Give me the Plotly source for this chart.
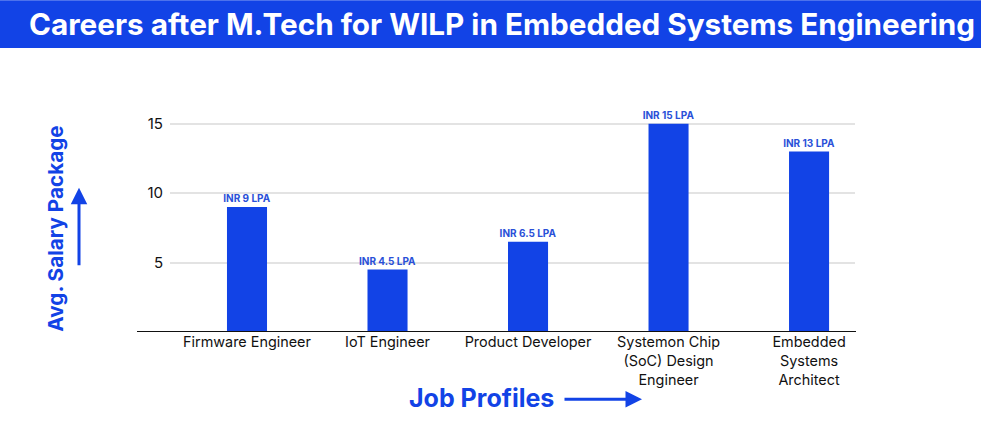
import plotly.graph_objects as go

# ---- data ----
categories = ["Firmware Engineer", "IoT Engineer", "Product Developer",
              "Systemon Chip<br>(SoC) Design<br>Engineer",
              "Embedded<br>Systems<br>Architect"]
salary_lpa = [9, 4.5, 6.5, 15, 13]
bar_labels = ["INR 9 LPA", "INR 4.5 LPA", "INR 6.5 LPA", "INR 15 LPA", "INR 13 LPA"]
y_ticks = [5, 10, 15]

title_text = "Careers after M.Tech for WILP in Embedded Systems Engineering"
y_title = "Avg. Salary Package"
x_title = "Job Profiles"

# ---- layout constants (pixels) ----
W, H = 1000, 423
L, R, T, B = 170, 145, 96, 90.5
PW, PH = W - L - R, H - T - B
BLUE = "#1243E6"
FONT = "Inter, 'Open Sans', sans-serif"


def px(x):
    return (x - L) / PW


def py(y):
    return (H - B - y) / PH


fig = go.Figure()
fig.add_trace(go.Bar(
    x=categories, y=salary_lpa, text=bar_labels,
    textposition="outside", cliponaxis=False, constraintext="none",
    textfont=dict(family=FONT, size=10, color="#2A50D8", weight="bold"),
    marker=dict(color=BLUE, line=dict(width=0)),
    width=0.285, hoverinfo="skip",
))

fig.update_layout(
    width=W, height=H,
    margin=dict(l=L, r=R, t=T, b=B, pad=0),
    paper_bgcolor="white", plot_bgcolor="white",
    showlegend=False,
    font=dict(family=FONT, color="#111"),
    xaxis=dict(range=[-0.548, 4.327], showgrid=False, showline=False,
               ticks="", tickfont=dict(size=14.4, color="#111"),
               zeroline=False),
    yaxis=dict(range=[0, 17], tickvals=y_ticks, showgrid=True,
               gridcolor="#E3E3E3", gridwidth=1.5, zeroline=False,
               showline=False, ticks="", ticklabelstandoff=6,
               tickfont=dict(size=15, color="#111")),
)

shapes = [
    # title banner
    dict(type="rect", xref="paper", yref="paper",
         x0=px(0), x1=px(981), y0=py(48), y1=py(0),
         fillcolor=BLUE, line=dict(width=0), layer="below"),
    # baseline extending left of grid
    dict(type="line", xref="paper", yref="y",
         x0=px(137), x1=px(856), y0=0, y1=0,
         line=dict(color="#111", width=1.8)),
]
fig.update_layout(shapes=shapes)

annotations = [
    dict(text=title_text, xref="paper", yref="paper", x=px(502), y=py(24),
         showarrow=False, xanchor="center", yanchor="middle",
         font=dict(family=FONT, size=29.7, color="white", weight="bold")),
    dict(text=y_title, xref="paper", yref="paper", x=px(56), y=py(229),
         showarrow=False, textangle=-90, xanchor="center", yanchor="middle",
         font=dict(family=FONT, size=20.7, color=BLUE, weight="bold")),
    dict(text="", xref="paper", yref="paper", x=px(79), y=py(188),
         ax=0, ay=79, showarrow=True, arrowhead=2, arrowsize=1.1,
         arrowwidth=3, arrowcolor=BLUE),
    dict(text=x_title, xref="paper", yref="paper", x=px(481), y=py(399),
         showarrow=False, xanchor="center", yanchor="middle",
         font=dict(family=FONT, size=25, color=BLUE, weight="bold")),
    dict(text="", xref="paper", yref="paper", x=px(642), y=py(400),
         ax=-79, ay=0, showarrow=True, arrowhead=2, arrowsize=1.1,
         arrowwidth=3, arrowcolor=BLUE),
]
fig.update_layout(annotations=annotations)

fig.write_html("out.html",
               config={"displayModeBar": False},
               post_script="document.body.style.margin='0';")
